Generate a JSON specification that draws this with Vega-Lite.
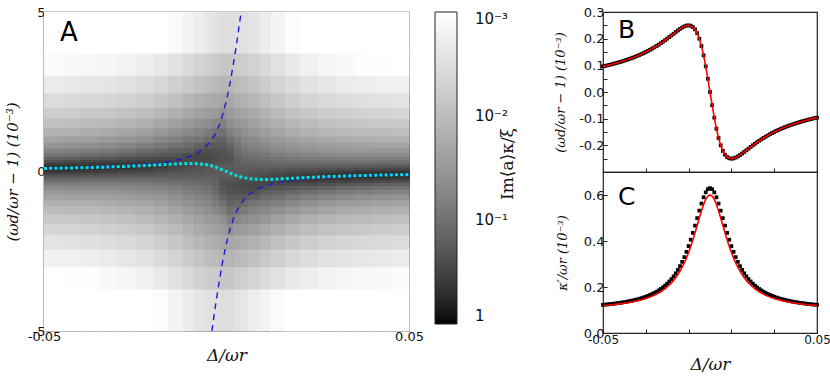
{
"$schema": "https://vega.github.io/schema/vega-lite/v6.json",
"background": "white",
"padding": {"left": 4, "top": 5, "right": 5, "bottom": 5},
"config": {
 "view": {"stroke": "#222222", "strokeWidth": 1.2},
 "font": "DejaVu Sans",
 "axis": {"domain": false, "grid": false, "tickColor": "#222222", "tickSize": -4, "tickWidth": 1, "labelPadding": 3, "labelFontSize": 13, "labelColor": "#111111", "labelFont": "DejaVu Sans", "titleFont": "DejaVu Serif", "titleFontStyle": "italic", "titleFontWeight": "normal", "titleColor": "#111111", "labelFlush": false, "labelOverlap": false}
},
"datasets": {
 "cols": [
  {"c":1,"x":-0.05,"x2":-0.045},{"c":2,"x":-0.045,"x2":-0.04},{"c":3,"x":-0.04,"x2":-0.035},{"c":4,"x":-0.035,"x2":-0.03},{"c":5,"x":-0.03,"x2":-0.025},{"c":6,"x":-0.025,"x2":-0.02},{"c":7,"x":-0.02,"x2":-0.016},{"c":8,"x":-0.016,"x2":-0.012},{"c":9,"x":-0.012,"x2":-0.009},{"c":10,"x":-0.009,"x2":-0.006},{"c":11,"x":-0.006,"x2":-0.004},{"c":12,"x":-0.004,"x2":-0.002},{"c":13,"x":-0.002,"x2":0},
  {"c":14,"x":0,"x2":0.002},{"c":15,"x":0.002,"x2":0.004},{"c":16,"x":0.004,"x2":0.006},{"c":17,"x":0.006,"x2":0.009},{"c":18,"x":0.009,"x2":0.012},{"c":19,"x":0.012,"x2":0.016},{"c":20,"x":0.016,"x2":0.02},{"c":21,"x":0.02,"x2":0.025},{"c":22,"x":0.025,"x2":0.03},{"c":23,"x":0.03,"x2":0.035},{"c":24,"x":0.035,"x2":0.04},{"c":25,"x":0.04,"x2":0.045},{"c":26,"x":0.045,"x2":0.05}
 ],
 "rows": [
  {"r":1,"y":3.7,"y2":5},{"r":2,"y":3.0,"y2":3.7},{"r":3,"y":2.45,"y2":3.0},{"r":4,"y":2.0,"y2":2.45},{"r":5,"y":1.65,"y2":2.0},{"r":6,"y":1.35,"y2":1.65},{"r":7,"y":1.1,"y2":1.35},{"r":8,"y":0.9,"y2":1.1},{"r":9,"y":0.72,"y2":0.9},{"r":10,"y":0.58,"y2":0.72},{"r":11,"y":0.46,"y2":0.58},{"r":12,"y":0.36,"y2":0.46},{"r":13,"y":0.28,"y2":0.36},{"r":14,"y":0.2,"y2":0.28},{"r":15,"y":0.12,"y2":0.2},{"r":16,"y":0.04,"y2":0.12},{"r":17,"y":-0.04,"y2":0.04},
  {"r":18,"y":-0.12,"y2":-0.04},{"r":19,"y":-0.2,"y2":-0.12},{"r":20,"y":-0.28,"y2":-0.2},{"r":21,"y":-0.36,"y2":-0.28},{"r":22,"y":-0.46,"y2":-0.36},{"r":23,"y":-0.58,"y2":-0.46},{"r":24,"y":-0.72,"y2":-0.58},{"r":25,"y":-0.9,"y2":-0.72},{"r":26,"y":-1.1,"y2":-0.9},{"r":27,"y":-1.35,"y2":-1.1},{"r":28,"y":-1.65,"y2":-1.35},{"r":29,"y":-2.0,"y2":-1.65},{"r":30,"y":-2.45,"y2":-2.0},{"r":31,"y":-3.0,"y2":-2.45},{"r":32,"y":-3.7,"y2":-3.0},{"r":33,"y":-5,"y2":-3.7}
 ],
 "heat": [
  {"c":1,"r":1,"v":0.000536},{"c":1,"r":2,"v":0.00117},{"c":1,"r":3,"v":0.00206},{"c":1,"r":4,"v":0.00349},{"c":1,"r":5,"v":0.00568},{"c":1,"r":6,"v":0.009},{"c":1,"r":7,"v":0.0143},{"c":1,"r":8,"v":0.0226},{"c":1,"r":9,"v":0.0361},{"c":1,"r":10,"v":0.0581},{"c":1,"r":11,"v":0.093},{"c":1,"r":12,"v":0.151},{"c":1,"r":13,"v":0.236},{"c":1,"r":14,"v":0.358},{"c":1,"r":15,"v":0.503},{"c":1,"r":16,"v":0.546},{"c":1,"r":17,"v":0.433},{"c":1,"r":18,"v":0.292},{"c":1,"r":19,"v":0.1925},{"c":1,"r":20,"v":0.131},{"c":1,"r":21,"v":0.094},{"c":1,"r":22,"v":0.0667},{"c":1,"r":23,"v":0.0463},{"c":1,"r":24,"v":0.0321},{"c":1,"r":25,"v":0.0219},{"c":1,"r":26,"v":0.0149},{"c":1,"r":27,"v":0.01},{"c":1,"r":28,"v":0.00661},{"c":1,"r":29,"v":0.00432},{"c":1,"r":30,"v":0.00274},{"c":1,"r":31,"v":0.00166},{"c":1,"r":32,"v":0.000965},{"c":1,"r":33,"v":0.000453},
  {"c":2,"r":1,"v":0.000569},{"c":2,"r":2,"v":0.00125},{"c":2,"r":3,"v":0.00221},{"c":2,"r":4,"v":0.00373},{"c":2,"r":5,"v":0.00609},{"c":2,"r":6,"v":0.00965},{"c":2,"r":7,"v":0.0154},{"c":2,"r":8,"v":0.0243},{"c":2,"r":9,"v":0.0389},{"c":2,"r":10,"v":0.0629},{"c":2,"r":11,"v":0.1007},{"c":2,"r":12,"v":0.163},{"c":2,"r":13,"v":0.253},{"c":2,"r":14,"v":0.374},{"c":2,"r":15,"v":0.502},{"c":2,"r":16,"v":0.522},{"c":2,"r":17,"v":0.409},{"c":2,"r":18,"v":0.279},{"c":2,"r":19,"v":0.188},{"c":2,"r":20,"v":0.13},{"c":2,"r":21,"v":0.0941},{"c":2,"r":22,"v":0.0675},{"c":2,"r":23,"v":0.0472},{"c":2,"r":24,"v":0.033},{"c":2,"r":25,"v":0.0226},{"c":2,"r":26,"v":0.0154},{"c":2,"r":27,"v":0.0105},{"c":2,"r":28,"v":0.00692},{"c":2,"r":29,"v":0.00452},{"c":2,"r":30,"v":0.00287},{"c":2,"r":31,"v":0.00175},{"c":2,"r":32,"v":0.00102},{"c":2,"r":33,"v":0.00048},
  {"c":3,"r":1,"v":0.000613},{"c":3,"r":2,"v":0.00134},{"c":3,"r":3,"v":0.00238},{"c":3,"r":4,"v":0.00402},{"c":3,"r":5,"v":0.00658},{"c":3,"r":6,"v":0.0105},{"c":3,"r":7,"v":0.0168},{"c":3,"r":8,"v":0.0267},{"c":3,"r":9,"v":0.0428},{"c":3,"r":10,"v":0.0697},{"c":3,"r":11,"v":0.111},{"c":3,"r":12,"v":0.181},{"c":3,"r":13,"v":0.276},{"c":3,"r":14,"v":0.396},{"c":3,"r":15,"v":0.501},{"c":3,"r":16,"v":0.493},{"c":3,"r":17,"v":0.38},{"c":3,"r":18,"v":0.264},{"c":3,"r":19,"v":0.181},{"c":3,"r":20,"v":0.127},{"c":3,"r":21,"v":0.093},{"c":3,"r":22,"v":0.0677},{"c":3,"r":23,"v":0.0477},{"c":3,"r":24,"v":0.0337},{"c":3,"r":25,"v":0.0233},{"c":3,"r":26,"v":0.0159},{"c":3,"r":27,"v":0.0108},{"c":3,"r":28,"v":0.00725},{"c":3,"r":29,"v":0.00475},{"c":3,"r":30,"v":0.00304},{"c":3,"r":31,"v":0.00185},{"c":3,"r":32,"v":0.00107},{"c":3,"r":33,"v":0.000508},
  {"c":4,"r":1,"v":0.000628},{"c":4,"r":2,"v":0.0014},{"c":4,"r":3,"v":0.00251},{"c":4,"r":4,"v":0.00433},{"c":4,"r":5,"v":0.00706},{"c":4,"r":6,"v":0.0114},{"c":4,"r":7,"v":0.0184},{"c":4,"r":8,"v":0.0294},{"c":4,"r":9,"v":0.0476},{"c":4,"r":10,"v":0.0778},{"c":4,"r":11,"v":0.1245},{"c":4,"r":12,"v":0.2},{"c":4,"r":13,"v":0.299},{"c":4,"r":14,"v":0.41},{"c":4,"r":15,"v":0.488},{"c":4,"r":16,"v":0.459},{"c":4,"r":17,"v":0.352},{"c":4,"r":18,"v":0.25},{"c":4,"r":19,"v":0.176},{"c":4,"r":20,"v":0.127},{"c":4,"r":21,"v":0.0941},{"c":4,"r":22,"v":0.0694},{"c":4,"r":23,"v":0.0497},{"c":4,"r":24,"v":0.0355},{"c":4,"r":25,"v":0.0248},{"c":4,"r":26,"v":0.0172},{"c":4,"r":27,"v":0.0118},{"c":4,"r":28,"v":0.00792},{"c":4,"r":29,"v":0.00523},{"c":4,"r":30,"v":0.00339},{"c":4,"r":31,"v":0.00207},{"c":4,"r":32,"v":0.00123},{"c":4,"r":33,"v":0.000589},
  {"c":5,"r":1,"v":0.000706},{"c":5,"r":2,"v":0.00157},{"c":5,"r":3,"v":0.00283},{"c":5,"r":4,"v":0.00488},{"c":5,"r":5,"v":0.00809},{"c":5,"r":6,"v":0.0131},{"c":5,"r":7,"v":0.0212},{"c":5,"r":8,"v":0.0341},{"c":5,"r":9,"v":0.0553},{"c":5,"r":10,"v":0.0903},{"c":5,"r":11,"v":0.144},{"c":5,"r":12,"v":0.226},{"c":5,"r":13,"v":0.323},{"c":5,"r":14,"v":0.416},{"c":5,"r":15,"v":0.459},{"c":5,"r":16,"v":0.415},{"c":5,"r":17,"v":0.322},{"c":5,"r":18,"v":0.235},{"c":5,"r":19,"v":0.171},{"c":5,"r":20,"v":0.126},{"c":5,"r":21,"v":0.0959},{"c":5,"r":22,"v":0.0719},{"c":5,"r":23,"v":0.0523},{"c":5,"r":24,"v":0.0378},{"c":5,"r":25,"v":0.0267},{"c":5,"r":26,"v":0.0188},{"c":5,"r":27,"v":0.013},{"c":5,"r":28,"v":0.00879},{"c":5,"r":29,"v":0.00588},{"c":5,"r":30,"v":0.00382},{"c":5,"r":31,"v":0.00237},{"c":5,"r":32,"v":0.00141},{"c":5,"r":33,"v":0.00069},
  {"c":6,"r":1,"v":0.000817},{"c":6,"r":2,"v":0.00184},{"c":6,"r":3,"v":0.00334},{"c":6,"r":4,"v":0.0058},{"c":6,"r":5,"v":0.0097},{"c":6,"r":6,"v":0.0157},{"c":6,"r":7,"v":0.0257},{"c":6,"r":8,"v":0.0415},{"c":6,"r":9,"v":0.0673},{"c":6,"r":10,"v":0.1087},{"c":6,"r":11,"v":0.17},{"c":6,"r":12,"v":0.254},{"c":6,"r":13,"v":0.339},{"c":6,"r":14,"v":0.403},{"c":6,"r":15,"v":0.414},{"c":6,"r":16,"v":0.365},{"c":6,"r":17,"v":0.29},{"c":6,"r":18,"v":0.22},{"c":6,"r":19,"v":0.167},{"c":6,"r":20,"v":0.127},{"c":6,"r":21,"v":0.0994},{"c":6,"r":22,"v":0.076},{"c":6,"r":23,"v":0.0564},{"c":6,"r":24,"v":0.0416},{"c":6,"r":25,"v":0.0299},{"c":6,"r":26,"v":0.0212},{"c":6,"r":27,"v":0.0149},{"c":6,"r":28,"v":0.0102},{"c":6,"r":29,"v":0.00687},{"c":6,"r":30,"v":0.00451},{"c":6,"r":31,"v":0.00283},{"c":6,"r":32,"v":0.00171},{"c":6,"r":33,"v":0.000847},
  {"c":7,"r":1,"v":0.000978},{"c":7,"r":2,"v":0.00224},{"c":7,"r":3,"v":0.00409},{"c":7,"r":4,"v":0.00718},{"c":7,"r":5,"v":0.01205},{"c":7,"r":6,"v":0.0196},{"c":7,"r":7,"v":0.0321},{"c":7,"r":8,"v":0.0517},{"c":7,"r":9,"v":0.0828},{"c":7,"r":10,"v":0.131},{"c":7,"r":11,"v":0.195},{"c":7,"r":12,"v":0.272},{"c":7,"r":13,"v":0.334},{"c":7,"r":14,"v":0.366},{"c":7,"r":15,"v":0.36},{"c":7,"r":16,"v":0.318},{"c":7,"r":17,"v":0.262},{"c":7,"r":18,"v":0.209},{"c":7,"r":19,"v":0.164},{"c":7,"r":20,"v":0.131},{"c":7,"r":21,"v":0.105},{"c":7,"r":22,"v":0.0826},{"c":7,"r":23,"v":0.0628},{"c":7,"r":24,"v":0.0473},{"c":7,"r":25,"v":0.0347},{"c":7,"r":26,"v":0.025},{"c":7,"r":27,"v":0.0178},{"c":7,"r":28,"v":0.0124},{"c":7,"r":29,"v":0.00849},{"c":7,"r":30,"v":0.0056},{"c":7,"r":31,"v":0.00358},{"c":7,"r":32,"v":0.00216},{"c":7,"r":33,"v":0.0011},
  {"c":8,"r":1,"v":0.00122},{"c":8,"r":2,"v":0.00282},{"c":8,"r":3,"v":0.00519},{"c":8,"r":4,"v":0.00913},{"c":8,"r":5,"v":0.0154},{"c":8,"r":6,"v":0.0253},{"c":8,"r":7,"v":0.0412},{"c":8,"r":8,"v":0.0655},{"c":8,"r":9,"v":0.1025},{"c":8,"r":10,"v":0.154},{"c":8,"r":11,"v":0.213},{"c":8,"r":12,"v":0.272},{"c":8,"r":13,"v":0.308},{"c":8,"r":14,"v":0.32},{"c":8,"r":15,"v":0.307},{"c":8,"r":16,"v":0.277},{"c":8,"r":17,"v":0.237},{"c":8,"r":18,"v":0.197},{"c":8,"r":19,"v":0.163},{"c":8,"r":20,"v":0.135},{"c":8,"r":21,"v":0.112},{"c":8,"r":22,"v":0.0905},{"c":8,"r":23,"v":0.071},{"c":8,"r":24,"v":0.0549},{"c":8,"r":25,"v":0.0413},{"c":8,"r":26,"v":0.0304},{"c":8,"r":27,"v":0.022},{"c":8,"r":28,"v":0.0155},{"c":8,"r":29,"v":0.0107},{"c":8,"r":30,"v":0.00725},{"c":8,"r":31,"v":0.00465},{"c":8,"r":32,"v":0.00289},{"c":8,"r":33,"v":0.0015},
  {"c":9,"r":1,"v":0.00154},{"c":9,"r":2,"v":0.00361},{"c":9,"r":3,"v":0.00669},{"c":9,"r":4,"v":0.0118},{"c":9,"r":5,"v":0.0199},{"c":9,"r":6,"v":0.0323},{"c":9,"r":7,"v":0.0516},{"c":9,"r":8,"v":0.0796},{"c":9,"r":9,"v":0.118},{"c":9,"r":10,"v":0.166},{"c":9,"r":11,"v":0.24},{"c":9,"r":12,"v":0.28},{"c":9,"r":13,"v":0.28},{"c":9,"r":14,"v":0.273},{"c":9,"r":15,"v":0.263},{"c":9,"r":16,"v":0.243},{"c":9,"r":17,"v":0.216},{"c":9,"r":18,"v":0.189},{"c":9,"r":19,"v":0.163},{"c":9,"r":20,"v":0.14},{"c":9,"r":21,"v":0.12},{"c":9,"r":22,"v":0.1},{"c":9,"r":23,"v":0.0812},{"c":9,"r":24,"v":0.0646},{"c":9,"r":25,"v":0.0498},{"c":9,"r":26,"v":0.0375},{"c":9,"r":27,"v":0.0277},{"c":9,"r":28,"v":0.0199},{"c":9,"r":29,"v":0.014},{"c":9,"r":30,"v":0.0095},{"c":9,"r":31,"v":0.0062},{"c":9,"r":32,"v":0.00386},{"c":9,"r":33,"v":0.00201},
  {"c":10,"r":1,"v":0.00193},{"c":10,"r":2,"v":0.00455},{"c":10,"r":3,"v":0.00846},{"c":10,"r":4,"v":0.0148},{"c":10,"r":5,"v":0.0245},{"c":10,"r":6,"v":0.039},{"c":10,"r":7,"v":0.0604},{"c":10,"r":8,"v":0.0889},{"c":10,"r":9,"v":0.149},{"c":10,"r":10,"v":0.227},{"c":10,"r":11,"v":0.293},{"c":10,"r":12,"v":0.308},{"c":10,"r":13,"v":0.27},{"c":10,"r":14,"v":0.25},{"c":10,"r":15,"v":0.228},{"c":10,"r":16,"v":0.217},{"c":10,"r":17,"v":0.201},{"c":10,"r":18,"v":0.183},{"c":10,"r":19,"v":0.164},{"c":10,"r":20,"v":0.146},{"c":10,"r":21,"v":0.128},{"c":10,"r":22,"v":0.111},{"c":10,"r":23,"v":0.0922},{"c":10,"r":24,"v":0.0755},{"c":10,"r":25,"v":0.0597},{"c":10,"r":26,"v":0.0459},{"c":10,"r":27,"v":0.0344},{"c":10,"r":28,"v":0.025},{"c":10,"r":29,"v":0.0178},{"c":10,"r":30,"v":0.0122},{"c":10,"r":31,"v":0.0079},{"c":10,"r":32,"v":0.00493},{"c":10,"r":33,"v":0.0025},
  {"c":11,"r":1,"v":0.00234},{"c":11,"r":2,"v":0.00548},{"c":11,"r":3,"v":0.0101},{"c":11,"r":4,"v":0.0173},{"c":11,"r":5,"v":0.0281},{"c":11,"r":6,"v":0.0434},{"c":11,"r":7,"v":0.075},{"c":11,"r":8,"v":0.118},{"c":11,"r":9,"v":0.182},{"c":11,"r":10,"v":0.24},{"c":11,"r":11,"v":0.278},{"c":11,"r":12,"v":0.29},{"c":11,"r":13,"v":0.263},{"c":11,"r":14,"v":0.236},{"c":11,"r":15,"v":0.204},{"c":11,"r":16,"v":0.199},{"c":11,"r":17,"v":0.19},{"c":11,"r":18,"v":0.177},{"c":11,"r":19,"v":0.164},{"c":11,"r":20,"v":0.15},{"c":11,"r":21,"v":0.136},{"c":11,"r":22,"v":0.121},{"c":11,"r":23,"v":0.103},{"c":11,"r":24,"v":0.0861},{"c":11,"r":25,"v":0.0695},{"c":11,"r":26,"v":0.0543},{"c":11,"r":27,"v":0.0412},{"c":11,"r":28,"v":0.0302},{"c":11,"r":29,"v":0.0215},{"c":11,"r":30,"v":0.0146},{"c":11,"r":31,"v":0.00949},{"c":11,"r":32,"v":0.00576},{"c":11,"r":33,"v":0.00288},
  {"c":12,"r":1,"v":0.00269},{"c":12,"r":2,"v":0.0062},{"c":12,"r":3,"v":0.0112},{"c":12,"r":4,"v":0.0189},{"c":12,"r":5,"v":0.0299},{"c":12,"r":6,"v":0.0536},{"c":12,"r":7,"v":0.09},{"c":12,"r":8,"v":0.14},{"c":12,"r":9,"v":0.19},{"c":12,"r":10,"v":0.231},{"c":12,"r":11,"v":0.25},{"c":12,"r":12,"v":0.26},{"c":12,"r":13,"v":0.244},{"c":12,"r":14,"v":0.223},{"c":12,"r":15,"v":0.188},{"c":12,"r":16,"v":0.186},{"c":12,"r":17,"v":0.182},{"c":12,"r":18,"v":0.175},{"c":12,"r":19,"v":0.165},{"c":12,"r":20,"v":0.154},{"c":12,"r":21,"v":0.15},{"c":12,"r":22,"v":0.155},{"c":12,"r":23,"v":0.134},{"c":12,"r":24,"v":0.114},{"c":12,"r":25,"v":0.0935},{"c":12,"r":26,"v":0.0739},{"c":12,"r":27,"v":0.052},{"c":12,"r":28,"v":0.0343},{"c":12,"r":29,"v":0.0243},{"c":12,"r":30,"v":0.0164},{"c":12,"r":31,"v":0.0105},{"c":12,"r":32,"v":0.00627},{"c":12,"r":33,"v":0.00301},
  {"c":13,"r":1,"v":0.00323},{"c":13,"r":2,"v":0.00732},{"c":13,"r":3,"v":0.0129},{"c":13,"r":4,"v":0.0211},{"c":13,"r":5,"v":0.0388},{"c":13,"r":6,"v":0.0654},{"c":13,"r":7,"v":0.104},{"c":13,"r":8,"v":0.144},{"c":13,"r":9,"v":0.18},{"c":13,"r":10,"v":0.214},{"c":13,"r":11,"v":0.229},{"c":13,"r":12,"v":0.236},{"c":13,"r":13,"v":0.225},{"c":13,"r":14,"v":0.208},{"c":13,"r":15,"v":0.177},{"c":13,"r":16,"v":0.179},{"c":13,"r":17,"v":0.179},{"c":13,"r":18,"v":0.176},{"c":13,"r":19,"v":0.185},{"c":13,"r":20,"v":0.196},{"c":13,"r":21,"v":0.208},{"c":13,"r":22,"v":0.215},{"c":13,"r":23,"v":0.203},{"c":13,"r":24,"v":0.178},{"c":13,"r":25,"v":0.138},{"c":13,"r":26,"v":0.0996},{"c":13,"r":27,"v":0.0679},{"c":13,"r":28,"v":0.0415},{"c":13,"r":29,"v":0.0291},{"c":13,"r":30,"v":0.0194},{"c":13,"r":31,"v":0.0122},{"c":13,"r":32,"v":0.00708},{"c":13,"r":33,"v":0.00329},
  {"c":14,"r":1,"v":0.00329},{"c":14,"r":2,"v":0.00708},{"c":14,"r":3,"v":0.0122},{"c":14,"r":4,"v":0.0194},{"c":14,"r":5,"v":0.0291},{"c":14,"r":6,"v":0.0415},{"c":14,"r":7,"v":0.0679},{"c":14,"r":8,"v":0.0996},{"c":14,"r":9,"v":0.138},{"c":14,"r":10,"v":0.178},{"c":14,"r":11,"v":0.203},{"c":14,"r":12,"v":0.215},{"c":14,"r":13,"v":0.208},{"c":14,"r":14,"v":0.196},{"c":14,"r":15,"v":0.185},{"c":14,"r":16,"v":0.176},{"c":14,"r":17,"v":0.179},{"c":14,"r":18,"v":0.179},{"c":14,"r":19,"v":0.177},{"c":14,"r":20,"v":0.208},{"c":14,"r":21,"v":0.225},{"c":14,"r":22,"v":0.236},{"c":14,"r":23,"v":0.229},{"c":14,"r":24,"v":0.214},{"c":14,"r":25,"v":0.18},{"c":14,"r":26,"v":0.144},{"c":14,"r":27,"v":0.104},{"c":14,"r":28,"v":0.0654},{"c":14,"r":29,"v":0.0388},{"c":14,"r":30,"v":0.0211},{"c":14,"r":31,"v":0.0129},{"c":14,"r":32,"v":0.00732},{"c":14,"r":33,"v":0.00323},
  {"c":15,"r":1,"v":0.00301},{"c":15,"r":2,"v":0.00627},{"c":15,"r":3,"v":0.0105},{"c":15,"r":4,"v":0.0164},{"c":15,"r":5,"v":0.0243},{"c":15,"r":6,"v":0.0343},{"c":15,"r":7,"v":0.052},{"c":15,"r":8,"v":0.0739},{"c":15,"r":9,"v":0.0935},{"c":15,"r":10,"v":0.114},{"c":15,"r":11,"v":0.134},{"c":15,"r":12,"v":0.155},{"c":15,"r":13,"v":0.15},{"c":15,"r":14,"v":0.154},{"c":15,"r":15,"v":0.165},{"c":15,"r":16,"v":0.175},{"c":15,"r":17,"v":0.182},{"c":15,"r":18,"v":0.186},{"c":15,"r":19,"v":0.188},{"c":15,"r":20,"v":0.223},{"c":15,"r":21,"v":0.244},{"c":15,"r":22,"v":0.26},{"c":15,"r":23,"v":0.25},{"c":15,"r":24,"v":0.231},{"c":15,"r":25,"v":0.19},{"c":15,"r":26,"v":0.14},{"c":15,"r":27,"v":0.09},{"c":15,"r":28,"v":0.0536},{"c":15,"r":29,"v":0.0299},{"c":15,"r":30,"v":0.0189},{"c":15,"r":31,"v":0.0112},{"c":15,"r":32,"v":0.0062},{"c":15,"r":33,"v":0.00269},
  {"c":16,"r":1,"v":0.00288},{"c":16,"r":2,"v":0.00576},{"c":16,"r":3,"v":0.00949},{"c":16,"r":4,"v":0.0146},{"c":16,"r":5,"v":0.0215},{"c":16,"r":6,"v":0.0302},{"c":16,"r":7,"v":0.0412},{"c":16,"r":8,"v":0.0543},{"c":16,"r":9,"v":0.0695},{"c":16,"r":10,"v":0.0861},{"c":16,"r":11,"v":0.103},{"c":16,"r":12,"v":0.121},{"c":16,"r":13,"v":0.136},{"c":16,"r":14,"v":0.15},{"c":16,"r":15,"v":0.164},{"c":16,"r":16,"v":0.177},{"c":16,"r":17,"v":0.19},{"c":16,"r":18,"v":0.199},{"c":16,"r":19,"v":0.204},{"c":16,"r":20,"v":0.236},{"c":16,"r":21,"v":0.263},{"c":16,"r":22,"v":0.29},{"c":16,"r":23,"v":0.278},{"c":16,"r":24,"v":0.24},{"c":16,"r":25,"v":0.182},{"c":16,"r":26,"v":0.118},{"c":16,"r":27,"v":0.075},{"c":16,"r":28,"v":0.0434},{"c":16,"r":29,"v":0.0281},{"c":16,"r":30,"v":0.0173},{"c":16,"r":31,"v":0.0101},{"c":16,"r":32,"v":0.00548},{"c":16,"r":33,"v":0.00234},
  {"c":17,"r":1,"v":0.0025},{"c":17,"r":2,"v":0.00493},{"c":17,"r":3,"v":0.0079},{"c":17,"r":4,"v":0.0122},{"c":17,"r":5,"v":0.0178},{"c":17,"r":6,"v":0.025},{"c":17,"r":7,"v":0.0344},{"c":17,"r":8,"v":0.0459},{"c":17,"r":9,"v":0.0597},{"c":17,"r":10,"v":0.0755},{"c":17,"r":11,"v":0.0922},{"c":17,"r":12,"v":0.111},{"c":17,"r":13,"v":0.128},{"c":17,"r":14,"v":0.146},{"c":17,"r":15,"v":0.164},{"c":17,"r":16,"v":0.183},{"c":17,"r":17,"v":0.201},{"c":17,"r":18,"v":0.217},{"c":17,"r":19,"v":0.228},{"c":17,"r":20,"v":0.25},{"c":17,"r":21,"v":0.27},{"c":17,"r":22,"v":0.308},{"c":17,"r":23,"v":0.293},{"c":17,"r":24,"v":0.227},{"c":17,"r":25,"v":0.149},{"c":17,"r":26,"v":0.0889},{"c":17,"r":27,"v":0.0604},{"c":17,"r":28,"v":0.039},{"c":17,"r":29,"v":0.0245},{"c":17,"r":30,"v":0.0148},{"c":17,"r":31,"v":0.00846},{"c":17,"r":32,"v":0.00455},{"c":17,"r":33,"v":0.00193},
  {"c":18,"r":1,"v":0.00201},{"c":18,"r":2,"v":0.00386},{"c":18,"r":3,"v":0.0062},{"c":18,"r":4,"v":0.0095},{"c":18,"r":5,"v":0.014},{"c":18,"r":6,"v":0.0199},{"c":18,"r":7,"v":0.0277},{"c":18,"r":8,"v":0.0375},{"c":18,"r":9,"v":0.0498},{"c":18,"r":10,"v":0.0646},{"c":18,"r":11,"v":0.0812},{"c":18,"r":12,"v":0.1},{"c":18,"r":13,"v":0.12},{"c":18,"r":14,"v":0.14},{"c":18,"r":15,"v":0.163},{"c":18,"r":16,"v":0.189},{"c":18,"r":17,"v":0.216},{"c":18,"r":18,"v":0.243},{"c":18,"r":19,"v":0.263},{"c":18,"r":20,"v":0.273},{"c":18,"r":21,"v":0.28},{"c":18,"r":22,"v":0.28},{"c":18,"r":23,"v":0.24},{"c":18,"r":24,"v":0.166},{"c":18,"r":25,"v":0.118},{"c":18,"r":26,"v":0.0796},{"c":18,"r":27,"v":0.0516},{"c":18,"r":28,"v":0.0323},{"c":18,"r":29,"v":0.0199},{"c":18,"r":30,"v":0.0118},{"c":18,"r":31,"v":0.00669},{"c":18,"r":32,"v":0.00361},{"c":18,"r":33,"v":0.00154},
  {"c":19,"r":1,"v":0.0015},{"c":19,"r":2,"v":0.00289},{"c":19,"r":3,"v":0.00465},{"c":19,"r":4,"v":0.00725},{"c":19,"r":5,"v":0.0107},{"c":19,"r":6,"v":0.0155},{"c":19,"r":7,"v":0.022},{"c":19,"r":8,"v":0.0304},{"c":19,"r":9,"v":0.0413},{"c":19,"r":10,"v":0.0549},{"c":19,"r":11,"v":0.071},{"c":19,"r":12,"v":0.0905},{"c":19,"r":13,"v":0.112},{"c":19,"r":14,"v":0.135},{"c":19,"r":15,"v":0.163},{"c":19,"r":16,"v":0.197},{"c":19,"r":17,"v":0.237},{"c":19,"r":18,"v":0.277},{"c":19,"r":19,"v":0.307},{"c":19,"r":20,"v":0.32},{"c":19,"r":21,"v":0.308},{"c":19,"r":22,"v":0.272},{"c":19,"r":23,"v":0.213},{"c":19,"r":24,"v":0.154},{"c":19,"r":25,"v":0.1025},{"c":19,"r":26,"v":0.0655},{"c":19,"r":27,"v":0.0412},{"c":19,"r":28,"v":0.0253},{"c":19,"r":29,"v":0.0154},{"c":19,"r":30,"v":0.00913},{"c":19,"r":31,"v":0.00519},{"c":19,"r":32,"v":0.00282},{"c":19,"r":33,"v":0.00122},
  {"c":20,"r":1,"v":0.0011},{"c":20,"r":2,"v":0.00216},{"c":20,"r":3,"v":0.00358},{"c":20,"r":4,"v":0.0056},{"c":20,"r":5,"v":0.00849},{"c":20,"r":6,"v":0.0124},{"c":20,"r":7,"v":0.0178},{"c":20,"r":8,"v":0.025},{"c":20,"r":9,"v":0.0347},{"c":20,"r":10,"v":0.0473},{"c":20,"r":11,"v":0.0628},{"c":20,"r":12,"v":0.0826},{"c":20,"r":13,"v":0.105},{"c":20,"r":14,"v":0.131},{"c":20,"r":15,"v":0.164},{"c":20,"r":16,"v":0.209},{"c":20,"r":17,"v":0.262},{"c":20,"r":18,"v":0.318},{"c":20,"r":19,"v":0.36},{"c":20,"r":20,"v":0.366},{"c":20,"r":21,"v":0.334},{"c":20,"r":22,"v":0.272},{"c":20,"r":23,"v":0.195},{"c":20,"r":24,"v":0.131},{"c":20,"r":25,"v":0.0828},{"c":20,"r":26,"v":0.0517},{"c":20,"r":27,"v":0.0321},{"c":20,"r":28,"v":0.0196},{"c":20,"r":29,"v":0.01205},{"c":20,"r":30,"v":0.00718},{"c":20,"r":31,"v":0.00409},{"c":20,"r":32,"v":0.00224},{"c":20,"r":33,"v":0.000978},
  {"c":21,"r":1,"v":0.000847},{"c":21,"r":2,"v":0.00171},{"c":21,"r":3,"v":0.00283},{"c":21,"r":4,"v":0.00451},{"c":21,"r":5,"v":0.00687},{"c":21,"r":6,"v":0.0102},{"c":21,"r":7,"v":0.0149},{"c":21,"r":8,"v":0.0212},{"c":21,"r":9,"v":0.0299},{"c":21,"r":10,"v":0.0416},{"c":21,"r":11,"v":0.0564},{"c":21,"r":12,"v":0.076},{"c":21,"r":13,"v":0.0994},{"c":21,"r":14,"v":0.127},{"c":21,"r":15,"v":0.167},{"c":21,"r":16,"v":0.22},{"c":21,"r":17,"v":0.29},{"c":21,"r":18,"v":0.365},{"c":21,"r":19,"v":0.414},{"c":21,"r":20,"v":0.403},{"c":21,"r":21,"v":0.339},{"c":21,"r":22,"v":0.254},{"c":21,"r":23,"v":0.17},{"c":21,"r":24,"v":0.1087},{"c":21,"r":25,"v":0.0673},{"c":21,"r":26,"v":0.0415},{"c":21,"r":27,"v":0.0257},{"c":21,"r":28,"v":0.0157},{"c":21,"r":29,"v":0.0097},{"c":21,"r":30,"v":0.0058},{"c":21,"r":31,"v":0.00334},{"c":21,"r":32,"v":0.00184},{"c":21,"r":33,"v":0.000817},
  {"c":22,"r":1,"v":0.00069},{"c":22,"r":2,"v":0.00141},{"c":22,"r":3,"v":0.00237},{"c":22,"r":4,"v":0.00382},{"c":22,"r":5,"v":0.00588},{"c":22,"r":6,"v":0.00879},{"c":22,"r":7,"v":0.013},{"c":22,"r":8,"v":0.0188},{"c":22,"r":9,"v":0.0267},{"c":22,"r":10,"v":0.0378},{"c":22,"r":11,"v":0.0523},{"c":22,"r":12,"v":0.0719},{"c":22,"r":13,"v":0.0959},{"c":22,"r":14,"v":0.126},{"c":22,"r":15,"v":0.171},{"c":22,"r":16,"v":0.235},{"c":22,"r":17,"v":0.322},{"c":22,"r":18,"v":0.415},{"c":22,"r":19,"v":0.459},{"c":22,"r":20,"v":0.416},{"c":22,"r":21,"v":0.323},{"c":22,"r":22,"v":0.226},{"c":22,"r":23,"v":0.144},{"c":22,"r":24,"v":0.0903},{"c":22,"r":25,"v":0.0553},{"c":22,"r":26,"v":0.0341},{"c":22,"r":27,"v":0.0212},{"c":22,"r":28,"v":0.0131},{"c":22,"r":29,"v":0.00809},{"c":22,"r":30,"v":0.00488},{"c":22,"r":31,"v":0.00283},{"c":22,"r":32,"v":0.00157},{"c":22,"r":33,"v":0.000706},
  {"c":23,"r":1,"v":0.000589},{"c":23,"r":2,"v":0.00123},{"c":23,"r":3,"v":0.00207},{"c":23,"r":4,"v":0.00339},{"c":23,"r":5,"v":0.00523},{"c":23,"r":6,"v":0.00792},{"c":23,"r":7,"v":0.0118},{"c":23,"r":8,"v":0.0172},{"c":23,"r":9,"v":0.0248},{"c":23,"r":10,"v":0.0355},{"c":23,"r":11,"v":0.0497},{"c":23,"r":12,"v":0.0694},{"c":23,"r":13,"v":0.0941},{"c":23,"r":14,"v":0.127},{"c":23,"r":15,"v":0.176},{"c":23,"r":16,"v":0.25},{"c":23,"r":17,"v":0.352},{"c":23,"r":18,"v":0.459},{"c":23,"r":19,"v":0.488},{"c":23,"r":20,"v":0.41},{"c":23,"r":21,"v":0.299},{"c":23,"r":22,"v":0.2},{"c":23,"r":23,"v":0.1245},{"c":23,"r":24,"v":0.0778},{"c":23,"r":25,"v":0.0476},{"c":23,"r":26,"v":0.0294},{"c":23,"r":27,"v":0.0184},{"c":23,"r":28,"v":0.0114},{"c":23,"r":29,"v":0.00706},{"c":23,"r":30,"v":0.00433},{"c":23,"r":31,"v":0.00251},{"c":23,"r":32,"v":0.0014},{"c":23,"r":33,"v":0.000628},
  {"c":24,"r":1,"v":0.000508},{"c":24,"r":2,"v":0.00107},{"c":24,"r":3,"v":0.00185},{"c":24,"r":4,"v":0.00304},{"c":24,"r":5,"v":0.00475},{"c":24,"r":6,"v":0.00725},{"c":24,"r":7,"v":0.0108},{"c":24,"r":8,"v":0.0159},{"c":24,"r":9,"v":0.0233},{"c":24,"r":10,"v":0.0337},{"c":24,"r":11,"v":0.0477},{"c":24,"r":12,"v":0.0677},{"c":24,"r":13,"v":0.093},{"c":24,"r":14,"v":0.127},{"c":24,"r":15,"v":0.181},{"c":24,"r":16,"v":0.264},{"c":24,"r":17,"v":0.38},{"c":24,"r":18,"v":0.493},{"c":24,"r":19,"v":0.501},{"c":24,"r":20,"v":0.396},{"c":24,"r":21,"v":0.276},{"c":24,"r":22,"v":0.181},{"c":24,"r":23,"v":0.111},{"c":24,"r":24,"v":0.0697},{"c":24,"r":25,"v":0.0428},{"c":24,"r":26,"v":0.0267},{"c":24,"r":27,"v":0.0168},{"c":24,"r":28,"v":0.0105},{"c":24,"r":29,"v":0.00658},{"c":24,"r":30,"v":0.00402},{"c":24,"r":31,"v":0.00238},{"c":24,"r":32,"v":0.00134},{"c":24,"r":33,"v":0.000613},
  {"c":25,"r":1,"v":0.00048},{"c":25,"r":2,"v":0.00102},{"c":25,"r":3,"v":0.00175},{"c":25,"r":4,"v":0.00287},{"c":25,"r":5,"v":0.00452},{"c":25,"r":6,"v":0.00692},{"c":25,"r":7,"v":0.0105},{"c":25,"r":8,"v":0.0154},{"c":25,"r":9,"v":0.0226},{"c":25,"r":10,"v":0.033},{"c":25,"r":11,"v":0.0472},{"c":25,"r":12,"v":0.0675},{"c":25,"r":13,"v":0.0941},{"c":25,"r":14,"v":0.13},{"c":25,"r":15,"v":0.188},{"c":25,"r":16,"v":0.279},{"c":25,"r":17,"v":0.409},{"c":25,"r":18,"v":0.522},{"c":25,"r":19,"v":0.502},{"c":25,"r":20,"v":0.374},{"c":25,"r":21,"v":0.253},{"c":25,"r":22,"v":0.163},{"c":25,"r":23,"v":0.1007},{"c":25,"r":24,"v":0.0629},{"c":25,"r":25,"v":0.0389},{"c":25,"r":26,"v":0.0243},{"c":25,"r":27,"v":0.0154},{"c":25,"r":28,"v":0.00965},{"c":25,"r":29,"v":0.00609},{"c":25,"r":30,"v":0.00373},{"c":25,"r":31,"v":0.00221},{"c":25,"r":32,"v":0.00125},{"c":25,"r":33,"v":0.000569},
  {"c":26,"r":1,"v":0.000453},{"c":26,"r":2,"v":0.000965},{"c":26,"r":3,"v":0.00166},{"c":26,"r":4,"v":0.00274},{"c":26,"r":5,"v":0.00432},{"c":26,"r":6,"v":0.00661},{"c":26,"r":7,"v":0.01},{"c":26,"r":8,"v":0.0149},{"c":26,"r":9,"v":0.0219},{"c":26,"r":10,"v":0.0321},{"c":26,"r":11,"v":0.0463},{"c":26,"r":12,"v":0.0667},{"c":26,"r":13,"v":0.094},{"c":26,"r":14,"v":0.131},{"c":26,"r":15,"v":0.1925},{"c":26,"r":16,"v":0.292},{"c":26,"r":17,"v":0.433},{"c":26,"r":18,"v":0.546},{"c":26,"r":19,"v":0.503},{"c":26,"r":20,"v":0.358},{"c":26,"r":21,"v":0.236},{"c":26,"r":22,"v":0.151},{"c":26,"r":23,"v":0.093},{"c":26,"r":24,"v":0.0581},{"c":26,"r":25,"v":0.0361},{"c":26,"r":26,"v":0.0226},{"c":26,"r":27,"v":0.0143},{"c":26,"r":28,"v":0.009},{"c":26,"r":29,"v":0.00568},{"c":26,"r":30,"v":0.00349},{"c":26,"r":31,"v":0.00206},{"c":26,"r":32,"v":0.00117},{"c":26,"r":33,"v":0.000536}
 ],
 "hyp": [
  {"b":"u","d":-0.05,"y":0.0998},{"b":"u","d":-0.045,"y":0.1108},{"b":"u","d":-0.04,"y":0.1246},{"b":"u","d":-0.035,"y":0.1423},{"b":"u","d":-0.03,"y":0.1658},{"b":"u","d":-0.025,"y":0.1984},{"b":"u","d":-0.02,"y":0.247},{"b":"u","d":-0.017,"y":0.2892},{"b":"u","d":-0.014,"y":0.3485},{"b":"u","d":-0.012,"y":0.4031},{"b":"u","d":-0.01,"y":0.4772},{"b":"u","d":-0.009,"y":0.525},{"b":"u","d":-0.008,"y":0.5826},{"b":"u","d":-0.007,"y":0.6533},{"b":"u","d":-0.006,"y":0.7417},{"b":"u","d":-0.005,"y":0.8541},{"b":"u","d":-0.004,"y":1.0},{"b":"u","d":-0.003,"y":1.1926},{"b":"u","d":-0.002,"y":1.4495},{"b":"u","d":-0.001,"y":1.7913},{"b":"u","d":0,"y":2.2361},{"b":"u","d":0.001,"y":2.7913},{"b":"u","d":0.002,"y":3.4495},{"b":"u","d":0.0025,"y":3.8117},{"b":"u","d":0.003,"y":4.1926},{"b":"u","d":0.0035,"y":4.5895},{"b":"u","d":0.004,"y":5.0},
  {"b":"l","d":-0.004,"y":-5.0},{"b":"l","d":-0.0035,"y":-4.5895},{"b":"l","d":-0.003,"y":-4.1926},{"b":"l","d":-0.0025,"y":-3.8117},{"b":"l","d":-0.002,"y":-3.4495},{"b":"l","d":-0.001,"y":-2.7913},{"b":"l","d":0,"y":-2.2361},{"b":"l","d":0.001,"y":-1.7913},{"b":"l","d":0.002,"y":-1.4495},{"b":"l","d":0.003,"y":-1.1926},{"b":"l","d":0.004,"y":-1.0},{"b":"l","d":0.005,"y":-0.8541},{"b":"l","d":0.006,"y":-0.7417},{"b":"l","d":0.007,"y":-0.6533},{"b":"l","d":0.008,"y":-0.5826},{"b":"l","d":0.009,"y":-0.525},{"b":"l","d":0.01,"y":-0.4772},{"b":"l","d":0.012,"y":-0.4031},{"b":"l","d":0.014,"y":-0.3485},{"b":"l","d":0.017,"y":-0.2892},{"b":"l","d":0.02,"y":-0.247},{"b":"l","d":0.025,"y":-0.1984},{"b":"l","d":0.03,"y":-0.1658},{"b":"l","d":0.035,"y":-0.1423},{"b":"l","d":0.04,"y":-0.1246},{"b":"l","d":0.045,"y":-0.1108},{"b":"l","d":0.05,"y":-0.0998}
 ],
 "bc": [
  {"d":-0.05,"s":0.0962,"k":0.1224,"kf":0.1193},{"d":-0.049,"s":0.098,"k":0.1233,"kf":0.12},{"d":-0.048,"s":0.0998,"k":0.1242,"kf":0.1208},{"d":-0.047,"s":0.1018,"k":0.1252,"kf":0.1217},{"d":-0.046,"s":0.1038,"k":0.1262,"kf":0.1226},{"d":-0.045,"s":0.1059,"k":0.1274,"kf":0.1236},{"d":-0.044,"s":0.108,"k":0.1286,"kf":0.1246},{"d":-0.043,"s":0.1103,"k":0.1298,"kf":0.1257},{"d":-0.042,"s":0.1126,"k":0.1312,"kf":0.1268},{"d":-0.041,"s":0.1151,"k":0.1326,"kf":0.1281},
  {"d":-0.04,"s":0.1176,"k":0.1342,"kf":0.1294},{"d":-0.039,"s":0.1203,"k":0.1358,"kf":0.1309},{"d":-0.038,"s":0.1231,"k":0.1376,"kf":0.1324},{"d":-0.037,"s":0.1259,"k":0.1395,"kf":0.1341},{"d":-0.036,"s":0.1289,"k":0.1416,"kf":0.1358},{"d":-0.035,"s":0.1321,"k":0.1438,"kf":0.1378},{"d":-0.034,"s":0.1354,"k":0.1462,"kf":0.1398},{"d":-0.033,"s":0.1387,"k":0.1487,"kf":0.1421},{"d":-0.032,"s":0.1423,"k":0.1515,"kf":0.1445},{"d":-0.031,"s":0.146,"k":0.1545,"kf":0.1471},
  {"d":-0.03,"s":0.15,"k":0.1578,"kf":0.15},{"d":-0.029,"s":0.1541,"k":0.1614,"kf":0.1532},{"d":-0.028,"s":0.1584,"k":0.1653,"kf":0.1566},{"d":-0.027,"s":0.1629,"k":0.1696,"kf":0.1603},{"d":-0.026,"s":0.1676,"k":0.1743,"kf":0.1645},{"d":-0.025,"s":0.1724,"k":0.1795,"kf":0.169},{"d":-0.024,"s":0.1775,"k":0.1852,"kf":0.174},{"d":-0.023,"s":0.1829,"k":0.1914,"kf":0.1795},{"d":-0.022,"s":0.1884,"k":0.1983,"kf":0.1856},{"d":-0.021,"s":0.1941,"k":0.206,"kf":0.1924},
  {"d":-0.02,"s":0.2,"k":0.2145,"kf":0.2},{"d":-0.019,"s":0.2061,"k":0.224,"kf":0.2085},{"d":-0.018,"s":0.2123,"k":0.2346,"kf":0.2179},{"d":-0.017,"s":0.2185,"k":0.2463,"kf":0.2285},{"d":-0.016,"s":0.2247,"k":0.2595,"kf":0.2405},{"d":-0.015,"s":0.2308,"k":0.2743,"kf":0.2539},{"d":-0.014,"s":0.2365,"k":0.2908,"kf":0.2689},{"d":-0.013,"s":0.2416,"k":0.3092,"kf":0.2859},{"d":-0.012,"s":0.2459,"k":0.3298,"kf":0.3049},{"d":-0.011,"s":0.2489,"k":0.3527,"kf":0.3263},
  {"d":-0.01,"s":0.25,"k":0.3779,"kf":0.35},{"d":-0.009,"s":0.2486,"k":0.4055,"kf":0.3763},{"d":-0.008,"s":0.2439,"k":0.4353,"kf":0.4049},{"d":-0.007,"s":0.2349,"k":0.4669,"kf":0.4356},{"d":-0.006,"s":0.2206,"k":0.4995,"kf":0.4677},{"d":-0.005,"s":0.2,"k":0.532,"kf":0.5},{"d":-0.004,"s":0.1724,"k":0.5628,"kf":0.531},{"d":-0.003,"s":0.1376,"k":0.59,"kf":0.5587},{"d":-0.002,"s":0.0962,"k":0.6115,"kf":0.5808},{"d":-0.001,"s":0.0495,"k":0.6253,"kf":0.595},
  {"d":0,"s":0,"k":0.63,"kf":0.6},
  {"d":0.001,"s":-0.0495,"k":0.6253,"kf":0.595},{"d":0.002,"s":-0.0962,"k":0.6115,"kf":0.5808},{"d":0.003,"s":-0.1376,"k":0.59,"kf":0.5587},{"d":0.004,"s":-0.1724,"k":0.5628,"kf":0.531},{"d":0.005,"s":-0.2,"k":0.532,"kf":0.5},{"d":0.006,"s":-0.2206,"k":0.4995,"kf":0.4677},{"d":0.007,"s":-0.2349,"k":0.4669,"kf":0.4356},{"d":0.008,"s":-0.2439,"k":0.4353,"kf":0.4049},{"d":0.009,"s":-0.2486,"k":0.4055,"kf":0.3763},{"d":0.01,"s":-0.25,"k":0.3779,"kf":0.35},
  {"d":0.011,"s":-0.2489,"k":0.3527,"kf":0.3263},{"d":0.012,"s":-0.2459,"k":0.3298,"kf":0.3049},{"d":0.013,"s":-0.2416,"k":0.3092,"kf":0.2859},{"d":0.014,"s":-0.2365,"k":0.2908,"kf":0.2689},{"d":0.015,"s":-0.2308,"k":0.2743,"kf":0.2539},{"d":0.016,"s":-0.2247,"k":0.2595,"kf":0.2405},{"d":0.017,"s":-0.2185,"k":0.2463,"kf":0.2285},{"d":0.018,"s":-0.2123,"k":0.2346,"kf":0.2179},{"d":0.019,"s":-0.2061,"k":0.224,"kf":0.2085},{"d":0.02,"s":-0.2,"k":0.2145,"kf":0.2},
  {"d":0.021,"s":-0.1941,"k":0.206,"kf":0.1924},{"d":0.022,"s":-0.1884,"k":0.1983,"kf":0.1856},{"d":0.023,"s":-0.1829,"k":0.1914,"kf":0.1795},{"d":0.024,"s":-0.1775,"k":0.1852,"kf":0.174},{"d":0.025,"s":-0.1724,"k":0.1795,"kf":0.169},{"d":0.026,"s":-0.1676,"k":0.1743,"kf":0.1645},{"d":0.027,"s":-0.1629,"k":0.1696,"kf":0.1603},{"d":0.028,"s":-0.1584,"k":0.1653,"kf":0.1566},{"d":0.029,"s":-0.1541,"k":0.1614,"kf":0.1532},{"d":0.03,"s":-0.15,"k":0.1578,"kf":0.15},
  {"d":0.031,"s":-0.146,"k":0.1545,"kf":0.1471},{"d":0.032,"s":-0.1423,"k":0.1515,"kf":0.1445},{"d":0.033,"s":-0.1387,"k":0.1487,"kf":0.1421},{"d":0.034,"s":-0.1354,"k":0.1462,"kf":0.1398},{"d":0.035,"s":-0.1321,"k":0.1438,"kf":0.1378},{"d":0.036,"s":-0.1289,"k":0.1416,"kf":0.1358},{"d":0.037,"s":-0.1259,"k":0.1395,"kf":0.1341},{"d":0.038,"s":-0.1231,"k":0.1376,"kf":0.1324},{"d":0.039,"s":-0.1203,"k":0.1358,"kf":0.1309},{"d":0.04,"s":-0.1176,"k":0.1342,"kf":0.1294},
  {"d":0.041,"s":-0.1151,"k":0.1326,"kf":0.1281},{"d":0.042,"s":-0.1126,"k":0.1312,"kf":0.1268},{"d":0.043,"s":-0.1103,"k":0.1298,"kf":0.1257},{"d":0.044,"s":-0.108,"k":0.1286,"kf":0.1246},{"d":0.045,"s":-0.1059,"k":0.1274,"kf":0.1236},{"d":0.046,"s":-0.1038,"k":0.1262,"kf":0.1226},{"d":0.047,"s":-0.1018,"k":0.1252,"kf":0.1217},{"d":0.048,"s":-0.0998,"k":0.1242,"kf":0.1208},{"d":0.049,"s":-0.098,"k":0.1233,"kf":0.12},{"d":0.05,"s":-0.0962,"k":0.1224,"kf":0.1193}
 ]
},
"bounds": "flush",
"spacing": 194,
"resolve": {"scale": {"x": "independent", "y": "independent", "color": "independent"}, "legend": {"color": "independent"}},
"hconcat": [
 {
  "width": 365, "height": 319,
  "resolve": {"axis": {"y": "independent"}},
  "layer": [
   {
    "data": {"name": "heat"},
    "transform": [
     {"lookup": "c", "from": {"data": {"name": "cols"}, "key": "c", "fields": ["x", "x2"]}},
     {"lookup": "r", "from": {"data": {"name": "rows"}, "key": "r", "fields": ["y", "y2"]}}
    ],
    "mark": {"type": "rect", "x2Offset": 0.7, "yOffset": 0.7},
    "encoding": {
     "x": {"field": "x", "type": "quantitative", "scale": {"domain": [-0.05, 0.05], "nice": false, "zero": false},
       "axis": {"values": [-0.05,-0.04,-0.03,-0.02,-0.01,0,0.01,0.02,0.03,0.04,0.05], "labelOverlap": false, "labelExpr": "abs(datum.value) < 0.001 ? '0.00' : datum.value < -0.045 ? '-0.05' : datum.value > 0.045 ? '0.05' : ''", "title": "Δ/ωr", "titleFontSize": 17, "titleY": 29, "titleBaseline": "alphabetic"}},
     "x2": {"field": "x2"},
     "y": {"field": "y", "type": "quantitative", "scale": {"domain": [-5, 5], "nice": false, "zero": false},
       "axis": {"orient": "left", "values": [-5,-4,-3,-2,-1,0,1,2,3,4,5], "labelOverlap": false, "labelExpr": "datum.value == 5 ? '5' : datum.value == -5 ? '-5' : ''", "title": "(ωd/ωr − 1) (10⁻³)", "titleFontSize": 15, "titleX": -32, "titleBaseline": "middle"}},
     "y2": {"field": "y2"},
     "color": {"field": "v", "type": "quantitative",
       "scale": {"type": "log", "domain": [1, 0.001], "nice": false, "range": ["#000000", "#ffffff"], "interpolate": {"type": "rgb", "gamma": 1.35}, "clamp": true},
       "legend": {"type": "gradient", "orient": "right", "offset": 26, "direction": "vertical", "gradientLength": 312, "gradientThickness": 22, "gradientStrokeColor": "#222222", "gradientStrokeWidth": 1, "values": [0.001, 0.01, 0.1, 1], "labelExpr": "datum.value < 0.002 ? '10⁻³' : datum.value < 0.02 ? '10⁻²' : datum.value < 0.2 ? '10⁻¹' : '1'", "labelFontSize": 15, "labelOffset": 18, "labelColor": "#111111", "labelFont": "DejaVu Sans", "title": null, "padding": 0}}
    }
   },
   {
    "data": {"name": "hyp"},
    "mark": {"type": "line", "color": "#1a1ad8", "strokeWidth": 1.4, "strokeDash": [6, 5], "clip": true},
    "encoding": {"x": {"field": "d", "type": "quantitative"}, "y": {"field": "y", "type": "quantitative", "axis": {"orient": "left", "values": [0], "labelExpr": "'0'", "title": null, "labelOverlap": false}}, "detail": {"field": "b"}}
   },
   {
    "data": {"name": "bc"},
    "mark": {"type": "line", "color": "#00e0e0", "strokeWidth": 3, "strokeDash": [3, 2.2], "strokeCap": "butt"},
    "encoding": {"x": {"field": "d", "type": "quantitative"}, "y": {"field": "s", "type": "quantitative", "axis": null}}
   },
   {
    "data": {"values": [{"t": "A", "x": -0.0456, "y": 4.09}]},
    "mark": {"type": "text", "align": "left", "baseline": "alphabetic", "fontSize": 26, "font": "DejaVu Sans", "color": "#000000"},
    "encoding": {"x": {"field": "x", "type": "quantitative"}, "y": {"field": "y", "type": "quantitative", "axis": null}, "text": {"field": "t"}}
   },
   {
    "data": {"values": [{"t": "Im⟨a⟩κ/ξ", "x": 0.0772, "y": 0.235}]},
    "mark": {"type": "text", "align": "center", "baseline": "middle", "angle": 270, "fontSize": 17, "font": "DejaVu Serif", "color": "#111111"},
    "encoding": {"x": {"field": "x", "type": "quantitative"}, "y": {"field": "y", "type": "quantitative", "axis": null}, "text": {"field": "t"}}
   }
  ]
 },
 {
  "bounds": "flush",
  "spacing": 0,
  "vconcat": [
   {
    "width": 214, "height": 160,
    "resolve": {"axis": {"y": "independent"}},
    "layer": [
     {
      "data": {"name": "bc"},
      "mark": {"type": "point", "shape": "square", "filled": true, "size": 14, "color": "#000000", "opacity": 1},
      "encoding": {
       "x": {"field": "d", "type": "quantitative", "scale": {"domain": [-0.05, 0.05], "nice": false, "zero": false},
         "axis": {"values": [-0.05,-0.04,-0.03,-0.02,-0.01,0,0.01,0.02,0.03,0.04,0.05], "labels": false, "labelPadding": 0, "maxExtent": 0, "title": null}},
       "y": {"field": "s", "type": "quantitative", "scale": {"domain": [-0.3, 0.3], "nice": false, "zero": false},
         "axis": {"orient": "left", "values": [-0.2,-0.1,0,0.1,0.2,0.3], "labelOverlap": false, "labelFontSize": 13, "labelExpr": "abs(datum.value) < 0.01 ? '0.0' : abs(datum.value - 0.2) < 0.01 ? '0.2' : abs(datum.value + 0.2) < 0.01 ? '-0.2' : ''", "title": "(ωd/ωr − 1) (10⁻³)", "titleFontSize": 13, "titleX": -43, "titleBaseline": "middle"}}
      }
     },
     {
      "data": {"name": "bc"},
      "mark": {"type": "line", "color": "#ff0000", "strokeWidth": 1.6},
      "encoding": {"x": {"field": "d", "type": "quantitative"}, "y": {"field": "s", "type": "quantitative",
         "axis": {"orient": "left", "values": [-0.3,-0.25,-0.2,-0.15,-0.1,-0.05,0,0.05,0.1,0.15,0.2,0.25,0.3], "labelOverlap": false, "labelFontSize": 13, "labelExpr": "abs(datum.value - 0.3) < 0.01 ? '0.3' : abs(datum.value - 0.1) < 0.01 ? '0.1' : abs(datum.value + 0.1) < 0.01 ? '-0.1' : ''", "title": null}}}
     },
     {
      "data": {"values": [{"t": "B", "x": -0.043, "y": 0.2025}]},
      "mark": {"type": "text", "align": "left", "baseline": "alphabetic", "fontSize": 25, "font": "DejaVu Sans", "color": "#000000"},
      "encoding": {"x": {"field": "x", "type": "quantitative"}, "y": {"field": "y", "type": "quantitative", "axis": null}, "text": {"field": "t"}}
     }
    ]
   },
   {
    "width": 214, "height": 161,
    "layer": [
     {
      "data": {"name": "bc"},
      "mark": {"type": "point", "shape": "square", "filled": true, "size": 14, "color": "#000000", "opacity": 1},
      "encoding": {
       "x": {"field": "d", "type": "quantitative", "scale": {"domain": [-0.05, 0.05], "nice": false, "zero": false},
         "axis": {"values": [-0.05,-0.04,-0.03,-0.02,-0.01,0,0.01,0.02,0.03,0.04,0.05], "labelOverlap": false, "labelPadding": 5, "labelFontSize": 12, "labelExpr": "abs(datum.value) < 0.001 ? '0.00' : datum.value < -0.045 ? '-0.05' : datum.value > 0.045 ? '0.05' : ''", "title": "Δ/ωr", "titleFontSize": 17, "titleY": 36, "titleBaseline": "alphabetic"}},
       "y": {"field": "k", "type": "quantitative", "scale": {"domain": [0, 0.7], "nice": false, "zero": false},
         "axis": {"values": [0, 0.1, 0.2, 0.3, 0.4, 0.5, 0.6], "labelOverlap": false, "labelExpr": "abs(datum.value*5 - round(datum.value*5)) < 0.01 ? format(datum.value, '.1f') : ''", "title": "κ′/ωr (10⁻³)", "titleFontSize": 13, "titleX": -41, "titleBaseline": "middle"}}
      }
     },
     {
      "data": {"name": "bc"},
      "mark": {"type": "line", "color": "#ff0000", "strokeWidth": 1.6},
      "encoding": {"x": {"field": "d", "type": "quantitative"}, "y": {"field": "kf", "type": "quantitative"}}
     },
     {
      "data": {"values": [{"t": "C", "x": -0.043, "y": 0.557}]},
      "mark": {"type": "text", "align": "left", "baseline": "alphabetic", "fontSize": 25, "font": "DejaVu Sans", "color": "#000000"},
      "encoding": {"x": {"field": "x", "type": "quantitative"}, "y": {"field": "y", "type": "quantitative"}, "text": {"field": "t"}}
     }
    ]
   }
  ]
 }
]
}
